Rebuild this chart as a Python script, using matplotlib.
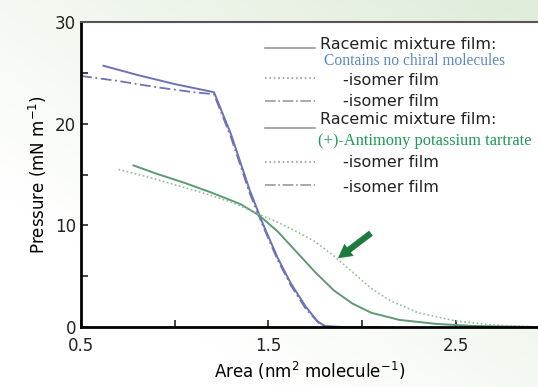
import numpy as np
import matplotlib.pyplot as plt
from matplotlib.lines import Line2D

# Racemic mixture films (no chiral molecules in subphase) - blue
blue_a_x = [0.62, 0.80, 1.00, 1.21, 1.30, 1.40, 1.47, 1.55, 1.62, 1.70, 1.76, 1.80, 1.90, 2.10]
blue_a_y = [25.7, 24.8, 23.9, 23.1, 19.0, 13.5, 10.2, 6.8, 4.3, 2.0, 0.6, 0.1, 0.0, 0.0]
blue_b_x = [0.50, 0.70, 0.90, 1.10, 1.21, 1.30, 1.40, 1.47, 1.55, 1.62, 1.70, 1.77, 1.82, 1.95]
blue_b_y = [24.7, 24.2, 23.6, 23.1, 22.9, 18.7, 13.2, 10.0, 6.6, 4.1, 1.8, 0.4, 0.0, 0.0]

# Films with (+)-antimony potassium tartrate in subphase - green
green_a_x = [0.78, 0.90, 1.05, 1.20, 1.35, 1.45, 1.55, 1.65, 1.75, 1.85, 1.95, 2.05, 2.20, 2.40, 2.60, 2.94]
green_a_y = [15.9, 15.1, 14.2, 13.2, 12.1, 11.0, 9.4, 7.4, 5.4, 3.6, 2.3, 1.4, 0.7, 0.3, 0.1, 0.0]
green_b_x = [0.70, 0.85, 1.00, 1.15, 1.30, 1.45, 1.55, 1.65, 1.75, 1.85, 1.95, 2.05, 2.15, 2.30, 2.50, 2.70, 2.94]
green_b_y = [15.5, 14.8, 14.0, 13.2, 12.3, 11.1, 10.3, 9.4, 8.4, 7.0, 5.4, 3.8, 2.6, 1.4, 0.6, 0.2, 0.0]

fig = plt.figure(figsize=(5.38, 3.87), dpi=100)

# soft green background gradient
bg = fig.add_axes([0, 0, 1, 1], zorder=-10)
gx, gy = np.meshgrid(np.linspace(0, 1, 200), np.linspace(0, 1, 200))
g = np.clip(0.6 * gx + 0.6 * (1 - gy) - 0.3, 0, 1)
bg.imshow(g, cmap=plt.matplotlib.colors.LinearSegmentedColormap.from_list(
    'bg', ['#ffffff', '#dfecd9']), aspect='auto', extent=[0, 1, 0, 1])
bg.axis('off')

ax = fig.add_axes([0.1506, 0.155, 0.8494, 0.788])
ax.set_facecolor('white')

ax.plot(blue_a_x, blue_a_y, color='#6d72b6', lw=1.4)
ax.plot(blue_b_x, blue_b_y, color='#6d72b6', lw=1.3, ls=(0, (6, 2, 1, 2)))
ax.plot(green_a_x, green_a_y, color='#5d9a72', lw=1.4)
ax.plot(green_b_x, green_b_y, color='#8fbd98', lw=1.2, ls=(0, (1, 1.5)))

ax.annotate('', xy=(1.86, 6.6), xytext=(2.06, 9.4),
            arrowprops=dict(arrowstyle='simple,head_width=1.1,head_length=1.0,tail_width=0.45',
                            color='#1e7a3e', lw=0))

ax.set_xlim(0.5, 2.94)
ax.set_ylim(0, 30)
ax.set_xticks([0.5, 1.0, 1.5, 2.0, 2.5])
ax.set_xticklabels(['0.5', '', '1.5', '', '2.5'])
ax.set_yticks([0, 5, 10, 15, 20, 25, 30])
ax.set_yticklabels(['0', '', '10', '', '20', '', '30'])
ax.tick_params(direction='in', length=5, width=1.2, labelsize=12, colors='#222222')
ax.tick_params(axis='x', pad=7)
for s in ['left', 'bottom']:
    ax.spines[s].set_linewidth(2)
ax.spines['top'].set_color('#555555')
ax.spines['top'].set_linewidth(1.5)
ax.spines['right'].set_visible(False)

ax.set_xlabel('Area (nm$^{2}$ molecule$^{-1}$)', fontsize=12, labelpad=4)
ax.set_ylabel('Pressure (mN m$^{-1}$)', fontsize=12, labelpad=4)

# legend drawn by hand
legend_styles = ['-', ':', '-.', '-', ':', '-.']
legend_ys = [0.915, 0.816, 0.741, 0.652, 0.541, 0.466]
for ls, y in zip(legend_styles, legend_ys):
    ax.add_line(Line2D([0.403, 0.512], [y, y], transform=ax.transAxes,
                       color='#9a9a9a', lw=1.2, ls=ls))

black = dict(transform=ax.transAxes, fontsize=11.5, va='center', color='#222222')
ax.text(0.523, 0.928, 'Racemic mixture film:', **black)
ax.text(0.532, 0.873, 'Contains no chiral molecules', transform=ax.transAxes,
        fontsize=11.2, va='center', color='#5b86c8', family='Liberation Serif')
ax.text(0.573, 0.810, '-isomer film', **black)
ax.text(0.573, 0.741, '-isomer film', **black)
ax.text(0.523, 0.682, 'Racemic mixture film:', **black)
ax.text(0.519, 0.611, '(+)-Antimony potassium tartrate', transform=ax.transAxes,
        fontsize=11.8, va='center', color='#1f9a55', family='Liberation Serif')
ax.text(0.573, 0.538, '-isomer film', **black)
ax.text(0.573, 0.459, '-isomer film', **black)

fig.savefig('out.png', dpi=100)
